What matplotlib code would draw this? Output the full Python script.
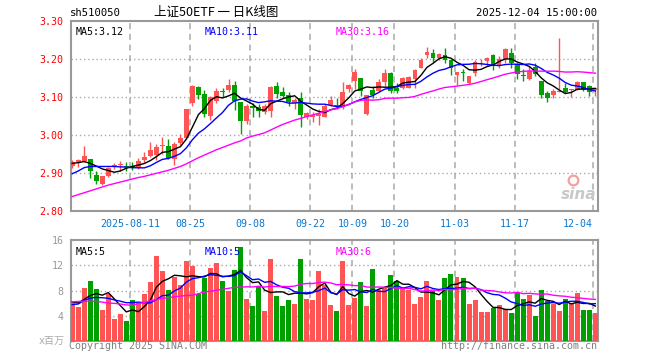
import numpy as np
import matplotlib.pyplot as plt
from matplotlib import transforms

# daily K data, 2025-07-28 .. 2025-12-04
opens  = [2.918, 2.929, 2.932, 2.936, 2.894, 2.870, 2.892, 2.916, 2.920, 2.919,
          2.919, 2.914, 2.933, 2.944, 2.948, 2.970, 2.971, 2.937, 2.979, 2.993,
          3.083, 3.126, 3.107, 3.050, 3.090, 3.114, 3.117, 3.131, 3.087, 3.037,
          3.075, 3.072, 3.061, 3.063, 3.128, 3.113, 3.104, 3.083, 3.097, 3.046,
          3.048, 3.050, 3.048, 3.078, 3.077, 3.072, 3.120, 3.141, 3.149, 3.056,
          3.118, 3.116, 3.138, 3.163, 3.124, 3.123, 3.124, 3.148, 3.177, 3.211,
          3.216, 3.203, 3.209, 3.198, 3.158, 3.164, 3.135, 3.163, 3.187, 3.194,
          3.210, 3.182, 3.200, 3.214, 3.185, 3.157, 3.147, 3.179, 3.141, 3.109,
          3.106, 3.113, 3.122, 3.117, 3.119, 3.139, 3.128, 3.117]
highs  = [2.935, 2.937, 2.971, 2.937, 2.904, 2.891, 2.916, 2.927, 2.932, 2.928,
          2.928, 2.939, 2.954, 2.981, 2.977, 2.994, 2.988, 2.980, 3.002, 3.069,
          3.131, 3.129, 3.118, 3.103, 3.124, 3.123, 3.146, 3.142, 3.087, 3.081,
          3.085, 3.081, 3.081, 3.128, 3.140, 3.127, 3.113, 3.096, 3.113, 3.061,
          3.059, 3.069, 3.081, 3.103, 3.098, 3.140, 3.133, 3.172, 3.149, 3.105,
          3.129, 3.146, 3.172, 3.166, 3.137, 3.152, 3.154, 3.174, 3.202, 3.231,
          3.226, 3.216, 3.227, 3.198, 3.166, 3.174, 3.155, 3.196, 3.200, 3.205,
          3.212, 3.207, 3.229, 3.227, 3.190, 3.172, 3.181, 3.189, 3.141, 3.115,
          3.121, 3.254, 3.137, 3.121, 3.141, 3.139, 3.131, 3.124]
lows   = [2.913, 2.915, 2.930, 2.888, 2.870, 2.868, 2.889, 2.911, 2.906, 2.906,
          2.907, 2.911, 2.927, 2.941, 2.935, 2.949, 2.937, 2.920, 2.973, 2.990,
          3.075, 3.094, 3.046, 3.040, 3.083, 3.100, 3.113, 3.066, 3.002, 3.028,
          3.046, 3.046, 3.055, 3.048, 3.098, 3.098, 3.076, 3.069, 3.022, 3.041,
          3.033, 3.026, 3.046, 3.075, 3.069, 3.069, 3.113, 3.120, 3.103, 3.053,
          3.098, 3.113, 3.129, 3.110, 3.110, 3.121, 3.122, 3.122, 3.175, 3.201,
          3.191, 3.197, 3.190, 3.157, 3.130, 3.142, 3.133, 3.155, 3.182, 3.182,
          3.170, 3.177, 3.190, 3.176, 3.147, 3.141, 3.145, 3.154, 3.097, 3.086,
          3.096, 3.112, 3.109, 3.100, 3.118, 3.115, 3.102, 3.101]
closes = [2.929, 2.935, 2.944, 2.904, 2.879, 2.891, 2.914, 2.921, 2.921, 2.915,
          2.914, 2.932, 2.942, 2.959, 2.967, 2.971, 2.940, 2.976, 2.991, 3.068,
          3.128, 3.104, 3.055, 3.099, 3.115, 3.112, 3.131, 3.090, 3.037, 3.075,
          3.071, 3.063, 3.076, 3.125, 3.107, 3.103, 3.087, 3.092, 3.053, 3.057,
          3.051, 3.055, 3.076, 3.092, 3.075, 3.113, 3.131, 3.166, 3.116, 3.104,
          3.104, 3.140, 3.162, 3.116, 3.114, 3.149, 3.152, 3.170, 3.197, 3.219,
          3.201, 3.213, 3.197, 3.177, 3.165, 3.162, 3.155, 3.191, 3.188, 3.201,
          3.183, 3.200, 3.225, 3.189, 3.161, 3.156, 3.169, 3.159, 3.104, 3.096,
          3.115, 3.115, 3.113, 3.118, 3.139, 3.119, 3.112, 3.123]
# volume, millions
volume = [6.2, 5.3, 8.4, 9.5, 8.2, 4.85, 7.4, 3.4, 4.2, 3.1,
          6.45, 6.0, 7.4, 9.3, 13.5, 11.1, 8.05, 10.2, 8.85, 12.7,
          11.9, 7.4, 10.0, 11.6, 12.4, 9.5, 8.0, 11.25, 14.9, 6.6,
          5.5, 8.6, 4.7, 13.0, 7.1, 5.5, 6.45, 5.8, 13.0, 6.6,
          6.45, 11.1, 8.85, 5.65, 4.7, 12.75, 5.65, 6.8, 9.3, 5.5,
          11.4, 8.05, 8.5, 10.45, 9.5, 8.5, 8.05, 5.8, 6.9, 9.5,
          7.9, 6.45, 10.0, 10.6, 10.15, 10.0, 5.8, 6.45, 4.55, 4.55,
          5.2, 5.65, 5.0, 4.4, 7.7, 6.6, 7.25, 3.95, 8.05, 6.3,
          5.8, 4.7, 6.6, 5.95, 7.55, 4.85, 4.85, 4.4]

# moving-average values at the left edge (history before the window)
ma5_head  = [2.925, 2.927, 2.930, 2.925]
ma10_head = [2.898, 2.905, 2.914, 2.917, 2.917, 2.917, 2.917, 2.917, 2.916]
ma30_head = [2.838, 2.843, 2.848, 2.853, 2.858, 2.863, 2.868, 2.872, 2.876, 2.880,
             2.884, 2.888, 2.891, 2.895, 2.899, 2.903, 2.907, 2.912, 2.917, 2.924,
             2.932, 2.940, 2.947, 2.954, 2.961, 2.967, 2.973, 2.979, 2.984]
vma5_head  = [6.2, 6.0, 6.6, 7.2]
vma10_head = [5.75, 5.85, 6.4, 6.8, 6.9, 6.85, 6.75, 6.5, 6.3]
vma30_head = [6.2, 6.25, 6.3, 6.3, 6.25, 6.15, 6.0, 5.95, 5.85, 5.7,
              5.65, 5.9, 6.1, 6.35, 6.55, 6.75, 6.85, 7.0, 7.1, 7.2,
              7.25, 7.5, 7.75, 7.9, 8.05, 8.2, 8.35, 8.5, 8.55]

tick_idx    = [10, 20, 30, 40, 47, 54, 64, 74, 87]
tick_labels = ['2025-08-11', '08-25', '09-08', '09-22', '10-09', '10-20', '11-03', '11-17', '12-04']


def ma(vals, n, head):
    vals = np.asarray(vals)
    rest = [vals[i - n + 1:i + 1].mean() for i in range(n - 1, len(vals))]
    return list(head) + rest


RED = '#ff5454'
GREEN = '#00a000'
GRID = '#aaaaaa'
MONO = 'DejaVu Sans Mono'

o = np.array(opens); h = np.array(highs); l = np.array(lows); c = np.array(closes)
x = np.arange(len(c))
up = c >= o
cols = [RED if u else GREEN for u in up]

fig = plt.figure(figsize=(6.6, 3.6), dpi=100)
ax1 = fig.add_axes([0.1071, 0.4139, 0.7985, 0.5286])
ax2 = fig.add_axes([0.1071, 0.0536, 0.7985, 0.2789])

# candles
ax1.vlines(x, l, h, colors=cols, lw=1, zorder=3)
body = np.maximum(np.abs(c - o), 0.0025)
ax1.bar(x, body, bottom=np.minimum(o, c), width=0.8, color=cols, lw=0, zorder=3)
ax1.plot(x, ma(c, 5, ma5_head), c='black', lw=1, zorder=4)
ax1.plot(x, ma(c, 10, ma10_head), c='#0000ff', lw=1, zorder=4)
ax1.plot(x, ma(c, 30, ma30_head), c='#ff00ff', lw=1, zorder=4)

# volume
ax2.bar(x, volume, width=0.83, color=cols, lw=0, zorder=3)
ax2.plot(x, ma(volume, 5, vma5_head), c='black', lw=1, zorder=4)
ax2.plot(x, ma(volume, 10, vma10_head), c='#0000ff', lw=1, zorder=4)
ax2.plot(x, ma(volume, 30, vma30_head), c='#ff00ff', lw=1, zorder=4)

gpos = [i - 0.4 for i in tick_idx]
for ax in (ax1, ax2):
    ax.set_xlim(-0.25, 87.4)
    for g in gpos:
        ax.axvline(g, color=GRID, lw=1.1, ls=(0, (4, 3)), zorder=1)
    for s in ax.spines.values():
        s.set_color('#999999'); s.set_linewidth(1.5)
    ax.tick_params(length=0, pad=5)

ax1.set_ylim(2.80, 3.30)
yt = [2.80, 2.90, 3.00, 3.10, 3.20, 3.30]
ax1.set_yticks(yt)
ax1.set_yticklabels(['%.2f' % v for v in yt], color='#ff0000', family=MONO, fontsize=7.2)
for v in yt[1:-1]:
    ax1.axhline(v, color=GRID, lw=1, ls=(0, (1, 2)), zorder=1)
ax1.set_xticks(gpos)
ax1.set_xticklabels(tick_labels, color='#0a78d0', family=MONO, fontsize=7.2)
ax1.tick_params(axis='x', pad=6)
ax1.get_xticklabels()[-1].set_ha('right')

ax2.set_ylim(0, 16)
ax2.set_yticks([4, 8, 12, 16])
ax2.set_yticklabels(['4', '8', '12', '16'], color='#999999', family=MONO, fontsize=7.2)
for v in [4, 8, 12]:
    ax2.axhline(v, color=GRID, lw=1, ls=(0, (1, 2)), zorder=1)
ax2.set_xticks([])
tr = transforms.blended_transform_factory(ax2.transAxes, ax2.transData)
ax2.text(-0.0108, 0, 'x百万', transform=tr, ha='right', va='center', color='#aaaaaa',
         family=[MONO, 'Noto Sans CJK SC'], fontsize=7.2)

# legends / labels
ax1.text(0.009, 0.965, 'MA5:3.12', transform=ax1.transAxes, va='top', family=MONO, fontsize=7.2, color='black')
ax1.text(0.255, 0.965, 'MA10:3.11', transform=ax1.transAxes, va='top', family=MONO, fontsize=7.2, color='#0000ff')
ax1.text(0.502, 0.965, 'MA30:3.16', transform=ax1.transAxes, va='top', family=MONO, fontsize=7.2, color='#ff00ff')
ax2.text(0.009, 0.93, 'MA5:5', transform=ax2.transAxes, va='top', family=MONO, fontsize=7.2, color='black')
ax2.text(0.255, 0.93, 'MA10:5', transform=ax2.transAxes, va='top', family=MONO, fontsize=7.2, color='#0000ff')
ax2.text(0.502, 0.93, 'MA30:6', transform=ax2.transAxes, va='top', family=MONO, fontsize=7.2, color='#ff00ff')

# sina watermark
ax1.text(0.998, 0.085, 'sina', transform=ax1.transAxes, ha='right', va='center', fontsize=11,
         style='italic', weight='bold', color='#c8c8c8', zorder=2)
ax1.plot([0.953], [0.165], transform=ax1.transAxes, marker='o', ms=7, mfc='none',
         mec='#f2a0a0', mew=1.6, zorder=2)

fig.text(70 / 660, 1 - 13 / 360, 'sh510050', va='center', family=MONO, fontsize=7.6)
fig.text(216 / 660, 1 - 12.5 / 360, '上证50ETF 一 日K线图', ha='center', va='center',
         family=['Noto Sans CJK SC'], fontsize=9)
fig.text(597 / 660, 1 - 12.5 / 360, '2025-12-04 15:00:00', ha='right', va='center', family=MONO, fontsize=7.6)
fig.text(69 / 660, 1 - 346 / 360, 'Copyright 2025 SINA.COM', va='center', family=MONO, fontsize=7.2, color='#808080')
fig.text(597 / 660, 1 - 346 / 360, 'http://finance.sina.com.cn', ha='right', va='center', family=MONO, fontsize=7.2, color='#808080')

plt.savefig('out.png', dpi=100)
